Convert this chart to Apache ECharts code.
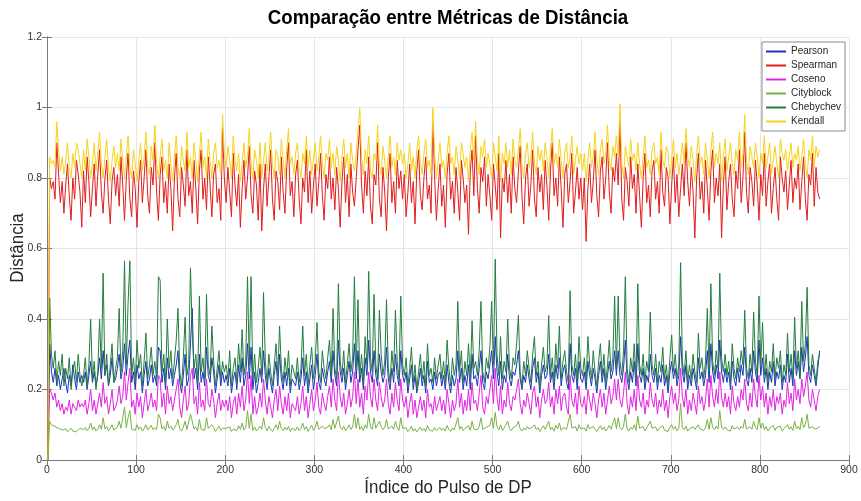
<!DOCTYPE html>
<html>
<head>
<meta charset="utf-8">
<script src="https://cdn.jsdelivr.net/npm/echarts@6/dist/echarts.min.js"></script>
<style>html,body{margin:0;padding:0;background:#fff}#chart{width:861px;height:501px}</style>
</head>
<body>
<div id="chart"></div>
<script>
// Sampled every 2nd pulse index, starting at pulse 1
const seriesNames = ['Pearson','Spearman','Coseno','Cityblock','Chebychev','Kendall'];
const xTicks = [0,100,200,300,400,500,600,700,800,900];
const yTicks = [0,0.2,0.4,0.6,0.8,1,1.2];
const titleText = 'Comparação entre Métricas de Distância';
const xName = 'Índice do Pulso de DP';
const yName = 'Distância';

const spearman = [
0,.80,.77,.79,.74,.90,.81,.73,.79,.70,.78,.84,.75,.68,.80,.74,.85,.81,.76,.66,
.82,.73,.86,.79,.69,.77,.84,.72,.81,.88,.76,.70,.80,.85,.74,.67,.79,.83,.75,.81,
.72,.86,.78,.68,.80,.87,.74,.69,.82,.77,.66,.79,.85,.73,.80,.88,.75,.70,.83,.78,
.90,.76,.68,.81,.86,.73,.79,.70,.84,.77,.65,.80,.87,.74,.69,.83,.78,.72,.88,.75,
.79,.70,.85,.77,.67,.82,.88,.74,.80,.71,.86,.78,.69,.81,.84,.73,.77,.68,.94,.80,
.73,.83,.76,.69,.87,.78,.72,.81,.66,.77,.85,.74,.80,.89,.75,.70,.82,.78,.68,.84,
.65,.77,.84,.72,.80,.88,.74,.68,.82,.79,.71,.86,.76,.70,.83,.90,.75,.79,.69,.81,
.85,.74,.67,.80,.76,.88,.73,.82,.70,.78,.84,.72,.79,.87,.75,.68,.81,.77,.86,.74,
.80,.71,.83,.77,.66,.79,.86,.73,.81,.69,.84,.76,.72,.80,.88,.95,.78,.70,.82,.75,
.86,.72,.67,.81,.78,.90,.74,.69,.83,.76,.65,.80,.87,.73,.79,.70,.85,.77,.82,.74,
.81,.69,.76,.84,.73,.79,.67,.82,.88,.75,.71,.80,.86,.74,.78,.70,.96,.80,.68,.77,
.84,.72,.78,.66,.81,.87,.74,.79,.70,.83,.76,.68,.85,.80,.73,.78,.64,.82,.88,.75,
.92,.77,.70,.83,.79,.86,.72,.81,.75,.68,.84,.78,.71,.87,.63,.80,.76,.85,.73,.81,
.70,.86,.77,.73,.82,.89,.75,.67,.80,.84,.72,.78,.88,.74,.69,.83,.76,.81,.71,.85,
.78,.68,.82,.90,.75,.80,.72,.86,.77,.66,.81,.84,.73,.79,.87,.70,.76,.83,.74,.80,
.71,.80,.62,.77,.84,.73,.79,.88,.75,.69,.82,.86,.74,.80,.90,.76,.70,.83,.79,.87,
.78,.96,.74,.68,.83,.79,.72,.86,.77,.81,.70,.84,.75,.66,.80,.87,.73,.78,.69,.82,
.85,.74,.79,.70,.88,.76,.72,.83,.80,.67,.78,.86,.73,.81,.69,.77,.84,.75,.90,.79,
.72,.83,.76,.63,.80,.87,.74,.79,.70,.85,.77,.68,.82,.88,.73,.80,.75,.84,.63,.78,
.86,.71,.79,.84,.74,.69,.82,.77,.88,.73,.80,.93,.76,.70,.83,.79,.72,.85,.78,.68,
.81,.75,.87,.72,.79,.84,.70,.77,.83,.74,.68,.86,.80,.76,.82,.71,.78,.85,.73,.80,
.77,.84,.71,.79,.86,.74,.68,.81,.78,.87,.72,.83,.76,.74];

const kendall = [
0,.86,.84,.85,.83,.96,.88,.82,.86,.81,.85,.90,.83,.80,.87,.83,.90,.88,.84,.80,
.88,.82,.91,.86,.80,.84,.90,.82,.87,.93,.84,.80,.86,.91,.83,.79,.85,.89,.83,.87,
.82,.91,.85,.80,.86,.92,.83,.80,.88,.84,.79,.85,.90,.82,.86,.93,.83,.81,.89,.85,
.95,.84,.80,.86,.91,.82,.85,.80,.90,.84,.79,.86,.92,.83,.80,.89,.85,.82,.93,.83,
.86,.80,.90,.85,.79,.87,.93,.83,.86,.80,.91,.85,.80,.87,.90,.83,.85,.81,.98,.87,
.83,.89,.85,.80,.92,.85,.82,.87,.79,.84,.90,.83,.86,.94,.84,.80,.88,.85,.80,.90,
.80,.85,.90,.82,.86,.93,.84,.80,.88,.86,.81,.91,.85,.80,.88,.94,.84,.86,.81,.87,
.90,.83,.80,.87,.84,.92,.83,.88,.81,.85,.90,.82,.86,.92,.84,.80,.87,.85,.91,.83,
.87,.81,.89,.85,.79,.86,.91,.83,.87,.80,.90,.85,.82,.87,.93,1.0,.86,.81,.88,.84,
.92,.82,.80,.87,.85,.95,.84,.81,.89,.85,.80,.86,.92,.83,.86,.81,.90,.85,.88,.84,
.87,.80,.84,.90,.82,.86,.80,.88,.92,.84,.81,.87,.91,.83,.85,.81,1.0,.87,.80,.85,
.90,.83,.85,.80,.87,.92,.84,.86,.81,.89,.85,.80,.90,.87,.83,.86,.79,.88,.93,.85,
.96,.85,.81,.89,.86,.91,.83,.87,.84,.80,.90,.86,.82,.92,.79,.87,.84,.90,.83,.88,
.81,.91,.85,.83,.88,.94,.84,.80,.87,.90,.83,.86,.93,.84,.81,.89,.85,.88,.82,.90,
.86,.80,.88,.94,.84,.87,.83,.91,.85,.80,.87,.90,.83,.86,.92,.81,.85,.89,.84,.87,
.82,.87,.79,.85,.90,.83,.86,.93,.85,.81,.88,.91,.84,.87,.95,.85,.82,.89,.86,.92,
.86,1.01,.84,.80,.89,.86,.83,.91,.85,.87,.82,.90,.84,.80,.86,.92,.83,.85,.81,.88,
.90,.84,.86,.81,.93,.85,.83,.89,.87,.80,.85,.91,.83,.87,.81,.85,.90,.84,.94,.86,
.83,.89,.85,.79,.87,.92,.84,.86,.81,.90,.85,.80,.88,.93,.83,.87,.84,.90,.79,.86,
.91,.82,.86,.90,.84,.81,.88,.85,.93,.83,.87,.98,.85,.81,.89,.86,.83,.90,.86,.80,
.87,.84,.92,.83,.86,.90,.81,.85,.89,.84,.80,.91,.87,.85,.88,.82,.86,.90,.83,.87,
.85,.89,.82,.86,.91,.84,.80,.88,.85,.92,.83,.89,.86,.88];

const pearson = [
0,.33,.25,.22,.26,.21,.24,.20,.23,.26,.22,.19,.24,.21,.27,.23,.20,.25,.22,.24,
.22,.25,.20,.24,.28,.22,.25,.21,.24,.29,.23,.31,.24,.27,.21,.24,.29,.22,.23,.26,
.30,.23,.26,.33,.24,.30,.34,.22,.25,.20,.27,.23,.25,.19,.24,.28,.21,.23,.27,.22,
.24,.21,.32,.31,.22,.26,.20,.29,.23,.26,.21,.24,.27,.31,.22,.19,.24,.30,.21,.23,
.33,.43,.23,.26,.20,.30,.22,.25,.21,.32,.24,.22,.29,.25,.19,.23,.27,.21,.25,.22,
.24,.21,.26,.19,.23,.25,.20,.27,.22,.29,.21,.24,.33,.23,.32,.20,.25,.19,.22,.26,
.22,.31,.24,.20,.26,.22,.19,.24,.28,.21,.30,.23,.20,.25,.21,.26,.19,.23,.22,.21,
.25,.20,.23,.29,.21,.25,.19,.23,.27,.20,.24,.30,.22,.20,.26,.23,.21,.25,.28,.22,
.31,.24,.21,.34,.25,.22,.26,.20,.24,.28,.22,.25,.33,.23,.31,.22,.26,.20,.29,.24,
.34,.25,.22,.31,.24,.21,.30,.25,.22,.24,.32,.23,.20,.26,.22,.30,.24,.21,.31,.24,
.22,.25,.19,.23,.27,.20,.24,.19,.22,.26,.21,.24,.19,.28,.22,.23,.20,.25,.21,.24,
.25,.21,.24,.20,.27,.22,.19,.24,.21,.23,.31,.22,.26,.20,.24,.21,.27,.20,.30,.23,
.24,.21,.26,.31,.22,.20,.25,.23,.27,.31,.23,.35,.25,.21,.28,.20,.24,.22,.30,.23,
.21,.25,.24,.27,.31,.23,.20,.24,.22,.27,.23,.20,.26,.29,.22,.25,.19,.24,.27,.23,
.24,.30,.22,.25,.20,.27,.23,.29,.21,.25,.27,.22,.20,.33,.24,.22,.26,.20,.28,.23,
.22,.25,.20,.28,.24,.21,.26,.23,.19,.24,.28,.22,.26,.20,.24,.28,.23,.25,.31,.24,
.31,.24,.22,.26,.34,.23,.20,.25,.22,.28,.21,.33,.24,.22,.26,.20,.24,.22,.30,.24,
.22,.26,.20,.24,.22,.27,.21,.24,.19,.25,.28,.23,.26,.21,.24,.35,.25,.22,.27,.20,
.24,.21,.26,.23,.20,.29,.23,.25,.21,.24,.31,.22,.33,.25,.22,.27,.23,.34,.25,.22,
.26,.22,.25,.20,.28,.23,.21,.26,.22,.27,.24,.32,.23,.21,.26,.22,.31,.25,.22,.34,
.24,.29,.22,.26,.20,.25,.22,.28,.21,.25,.23,.27,.20,.24,.22,.30,.22,.26,.21,.31,
.24,.28,.23,.32,.25,.29,.35,.24,.22,.27,.24,.21,.26,.31];

const coseno = [
0,.20,.19,.17,.19,.15,.17,.14,.16,.13,.15,.14,.17,.13,.16,.15,.14,.17,.15,.16,
.15,.17,.13,.16,.20,.14,.17,.13,.16,.19,.15,.22,.16,.18,.13,.16,.20,.14,.15,.17,
.21,.16,.18,.25,.17,.22,.26,.15,.17,.13,.19,.15,.18,.12,.16,.20,.14,.16,.19,.15,
.17,.14,.24,.23,.15,.19,.13,.21,.16,.18,.14,.17,.20,.23,.15,.12,.17,.21,.14,.16,
.24,.26,.16,.18,.13,.22,.15,.17,.14,.23,.16,.15,.20,.17,.12,.16,.19,.14,.17,.15,
.17,.14,.18,.12,.16,.18,.13,.19,.15,.21,.14,.17,.25,.16,.24,.13,.18,.13,.15,.19,
.15,.23,.17,.13,.18,.15,.12,.17,.20,.14,.21,.16,.13,.18,.14,.19,.12,.16,.15,.14,
.18,.13,.16,.21,.14,.18,.12,.16,.20,.14,.17,.22,.15,.13,.19,.16,.14,.18,.21,.15,
.23,.17,.14,.25,.18,.15,.19,.13,.16,.20,.15,.18,.25,.16,.23,.15,.19,.13,.21,.17,
.25,.18,.15,.23,.17,.14,.22,.18,.15,.17,.23,.16,.13,.19,.15,.22,.17,.14,.23,.17,
.15,.18,.12,.16,.19,.13,.17,.12,.15,.18,.14,.17,.12,.20,.15,.16,.13,.18,.14,.16,
.18,.14,.17,.13,.20,.16,.12,.17,.14,.16,.23,.15,.19,.13,.17,.14,.20,.14,.22,.16,
.17,.14,.19,.24,.15,.13,.18,.16,.20,.24,.16,.26,.18,.14,.21,.13,.17,.15,.22,.16,
.14,.18,.17,.20,.23,.16,.13,.17,.15,.19,.16,.13,.19,.21,.15,.18,.12,.17,.20,.16,
.17,.22,.15,.18,.13,.20,.16,.21,.14,.18,.19,.15,.13,.24,.17,.15,.19,.13,.21,.16,
.15,.18,.13,.20,.17,.14,.19,.16,.12,.17,.20,.15,.19,.13,.17,.21,.16,.18,.23,.17,
.23,.17,.15,.19,.25,.16,.13,.18,.15,.20,.14,.24,.17,.15,.19,.13,.17,.15,.22,.17,
.15,.19,.13,.17,.15,.20,.14,.17,.12,.18,.21,.16,.19,.14,.17,.26,.18,.15,.20,.13,
.17,.14,.19,.16,.13,.21,.16,.18,.14,.17,.23,.15,.24,.18,.15,.20,.16,.25,.18,.15,
.19,.15,.18,.13,.21,.16,.14,.18,.15,.20,.17,.23,.16,.14,.19,.15,.23,.18,.15,.24,
.17,.21,.15,.19,.13,.18,.15,.20,.14,.18,.16,.19,.13,.17,.15,.22,.16,.19,.14,.23,
.17,.20,.16,.23,.18,.21,.25,.17,.15,.20,.17,.14,.18,.20];

const cityblock = [
0,.11,.10,.105,.095,.10,.09,.095,.085,.09,.088,.08,.085,.09,.082,.086,.08,.084,.09,.087,
.086,.092,.083,.089,.105,.085,.094,.082,.088,.10,.087,.12,.088,.095,.083,.09,.10,.085,.088,.093,
.11,.09,.095,.15,.092,.12,.14,.088,.093,.084,.10,.087,.094,.082,.09,.10,.085,.089,.098,.086,
.092,.086,.13,.12,.088,.095,.083,.11,.09,.096,.085,.091,.10,.115,.088,.082,.093,.11,.086,.09,
.13,.11,.088,.094,.082,.115,.087,.092,.084,.12,.09,.086,.10,.092,.081,.088,.096,.084,.09,.087,
.09,.085,.094,.081,.088,.093,.083,.097,.087,.105,.085,.092,.14,.09,.13,.084,.094,.082,.088,.096,
.087,.12,.092,.083,.095,.087,.081,.09,.10,.086,.11,.089,.083,.093,.085,.096,.081,.09,.087,.084,
.094,.083,.089,.105,.086,.095,.081,.09,.098,.084,.092,.11,.087,.082,.096,.089,.084,.093,.10,.086,
.115,.09,.085,.125,.093,.086,.096,.083,.09,.10,.087,.094,.13,.09,.12,.087,.095,.083,.10,.09,
.13,.094,.087,.12,.09,.085,.11,.095,.086,.092,.115,.088,.083,.096,.087,.11,.091,.084,.12,.09,
.085,.091,.081,.087,.096,.082,.089,.08,.085,.093,.083,.09,.081,.098,.085,.088,.082,.092,.084,.088,
.092,.084,.09,.082,.098,.087,.081,.091,.085,.089,.12,.087,.095,.083,.09,.085,.097,.084,.11,.088,
.09,.085,.095,.12,.087,.082,.093,.088,.098,.12,.09,.135,.095,.085,.10,.083,.091,.087,.11,.089,
.083,.092,.09,.097,.11,.088,.082,.091,.085,.095,.088,.083,.094,.10,.086,.092,.081,.09,.097,.087,
.09,.11,.086,.093,.082,.098,.088,.105,.084,.092,.096,.087,.082,.13,.09,.086,.095,.082,.10,.088,
.085,.091,.082,.10,.089,.084,.095,.087,.081,.09,.097,.086,.094,.082,.089,.098,.087,.092,.12,.089,
.12,.092,.086,.096,.13,.088,.082,.093,.087,.10,.084,.125,.09,.086,.095,.082,.091,.087,.11,.09,
.085,.094,.082,.09,.087,.097,.084,.089,.081,.093,.10,.087,.095,.083,.09,.16,.092,.086,.096,.082,
.089,.084,.094,.087,.082,.10,.088,.093,.084,.091,.115,.087,.12,.092,.086,.096,.088,.14,.093,.087,
.094,.086,.091,.082,.098,.088,.084,.093,.087,.096,.09,.115,.088,.084,.095,.087,.11,.092,.086,.12,
.09,.105,.086,.095,.082,.091,.087,.098,.084,.093,.088,.096,.082,.09,.086,.10,.087,.094,.084,.11,
.088,.096,.086,.12,.092,.10,.13,.09,.085,.095,.088,.083,.09,.096];

const chebychev = [
0,.46,.30,.26,.31,.22,.28,.24,.30,.21,.26,.23,.29,.20,.25,.28,.22,.30,.24,.21,
.24,.29,.21,.27,.40,.23,.28,.20,.25,.40,.26,.53,.24,.30,.21,.27,.33,.22,.26,.29,
.43,.25,.31,.565,.27,.445,.565,.24,.29,.22,.34,.26,.30,.21,.28,.36,.23,.27,.32,.24,
.28,.23,.52,.51,.25,.30,.22,.40,.26,.31,.23,.28,.34,.43,.25,.21,.29,.405,.24,.27,
.545,.36,.26,.30,.22,.465,.25,.29,.23,.47,.27,.24,.38,.28,.21,.26,.31,.23,.28,.25,
.27,.23,.31,.21,.26,.29,.22,.33,.25,.37,.24,.28,.52,.27,.52,.23,.30,.22,.26,.32,
.24,.475,.28,.22,.30,.25,.21,.27,.33,.24,.38,.26,.22,.29,.24,.31,.21,.27,.25,.23,
.29,.22,.26,.38,.24,.30,.21,.27,.32,.23,.28,.39,.25,.22,.31,.26,.23,.29,.34,.24,
.43,.26,.23,.50,.28,.24,.31,.22,.27,.33,.25,.29,.52,.26,.455,.24,.30,.22,.35,.27,
.535,.29,.25,.47,.27,.23,.425,.30,.24,.28,.455,.26,.22,.31,.25,.425,.28,.23,.465,.27,
.24,.29,.21,.26,.32,.22,.27,.20,.25,.30,.23,.28,.21,.33,.24,.26,.22,.29,.23,.27,
.30,.23,.28,.22,.34,.26,.21,.29,.24,.27,.45,.25,.31,.22,.28,.24,.33,.23,.395,.26,
.28,.24,.31,.45,.25,.22,.29,.26,.32,.45,.27,.57,.30,.24,.35,.23,.28,.25,.40,.26,
.23,.29,.27,.33,.41,.25,.21,.28,.24,.31,.26,.22,.30,.35,.24,.28,.21,.27,.32,.25,
.27,.41,.24,.29,.22,.33,.26,.38,.23,.28,.31,.25,.22,.48,.27,.24,.30,.22,.35,.26,
.24,.29,.22,.35,.27,.23,.31,.25,.21,.28,.33,.24,.30,.22,.27,.34,.25,.29,.465,.26,
.465,.28,.24,.31,.52,.26,.22,.29,.25,.33,.23,.50,.27,.24,.30,.22,.28,.25,.42,.27,
.24,.30,.22,.28,.25,.32,.23,.27,.21,.29,.355,.25,.30,.23,.27,.56,.28,.24,.31,.22,
.27,.23,.30,.25,.22,.36,.26,.29,.23,.28,.43,.25,.50,.28,.24,.31,.26,.53,.29,.25,
.30,.24,.28,.22,.33,.26,.23,.29,.25,.31,.27,.425,.26,.23,.30,.25,.42,.28,.24,.465,
.27,.39,.24,.30,.22,.28,.25,.33,.23,.29,.26,.31,.22,.27,.24,.36,.25,.30,.23,.405,
.26,.31,.24,.45,.28,.33,.49,.27,.24,.30,.26,.22,.28,.30];

const colors = {
  Pearson: '#1d33b8', Spearman: '#e11d1d', Coseno: '#e024e0',
  Cityblock: '#7bb046', Chebychev: '#237d40', Kendall: '#f6d21a'
};
const valuesByName = {
  Pearson: pearson, Spearman: spearman, Coseno: coseno,
  Cityblock: cityblock, Chebychev: chebychev, Kendall: kendall
};
// pulse index of each sample (1, 3, 5, ...)
const pulseIndexOf = i => 1 + 2 * i;

const baseFont = '"Liberation Sans", Arial, Helvetica, sans-serif';
const chart = echarts.init(document.getElementById('chart'), null, {renderer: 'canvas'});

const axisLineStyle = {color: '#7a7a7a', width: 1};
const tickStyle = {show: true, inside: true, length: 5, lineStyle: axisLineStyle};
const labelStyle = {fontFamily: baseFont, fontSize: 10.5, color: '#333', margin: 5};

chart.setOption({
  animation: false,
  backgroundColor: '#ffffff',
  legend: {
    data: seriesNames,
    orient: 'vertical', right: 16, top: 42,
    padding: [3, 4, 3, 4], itemGap: 1,
    itemWidth: 20, itemHeight: 2, icon: 'rect',
    backgroundColor: '#ffffff', borderColor: '#8a8a8a', borderWidth: 1, borderRadius: 0,
    textStyle: {fontFamily: baseFont, fontSize: 10, color: '#262626', lineHeight: 13}
  },
  grid: {left: 47, right: 12, top: 37, bottom: 41, containLabel: false, outerBoundsMode: 'none'},
  xAxis: [{
    type: 'value', min: xTicks[0], max: xTicks[xTicks.length - 1], interval: 100,
    axisLine: {show: true, lineStyle: axisLineStyle},
    axisTick: tickStyle, axisLabel: labelStyle,
    splitLine: {show: true, lineStyle: {color: '#e6e6e6', width: 1}}
  }, {
    type: 'value', position: 'top', min: xTicks[0], max: xTicks[xTicks.length - 1], interval: 100,
    axisLine: {show: true, lineStyle: axisLineStyle},
    axisTick: tickStyle, axisLabel: {show: false}, splitLine: {show: false}
  }],
  yAxis: [{
    type: 'value', min: yTicks[0], max: yTicks[yTicks.length - 1], interval: 0.2,
    axisLine: {show: true, lineStyle: axisLineStyle},
    axisTick: tickStyle, axisLabel: labelStyle,
    splitLine: {show: true, lineStyle: {color: '#e6e6e6', width: 1}}
  }, {
    type: 'value', position: 'right', min: yTicks[0], max: yTicks[yTicks.length - 1], interval: 0.2,
    axisLine: {show: true, lineStyle: axisLineStyle},
    axisTick: tickStyle, axisLabel: {show: false}, splitLine: {show: false}
  }],
  graphic: [
    {type: 'text', x: 448, y: 18, scaleX: 0.89, silent: true,
     style: {text: titleText, font: 'bold 21px ' + baseFont, fill: '#000', align: 'center', verticalAlign: 'middle'}},
    {type: 'text', x: 448, y: 488, scaleX: 0.89, silent: true,
     style: {text: xName, font: '19px ' + baseFont, fill: '#262626', align: 'center', verticalAlign: 'middle'}},
    {type: 'text', x: 18, y: 248, rotation: Math.PI / 2, scaleX: 0.89, silent: true,
     style: {text: yName, font: '19px ' + baseFont, fill: '#262626', align: 'center', verticalAlign: 'middle'}}
  ],
  series: seriesNames.map(name => ({
    name: name, type: 'line', xAxisIndex: 0, yAxisIndex: 0,
    data: valuesByName[name].map((v, i) => [pulseIndexOf(i), v]),
    symbol: 'none', showSymbol: false,
    lineStyle: {color: colors[name], width: 1},
    itemStyle: {color: colors[name]},
    emphasis: {disabled: true}, silent: true
  }))
});
</script>
</body>
</html>
